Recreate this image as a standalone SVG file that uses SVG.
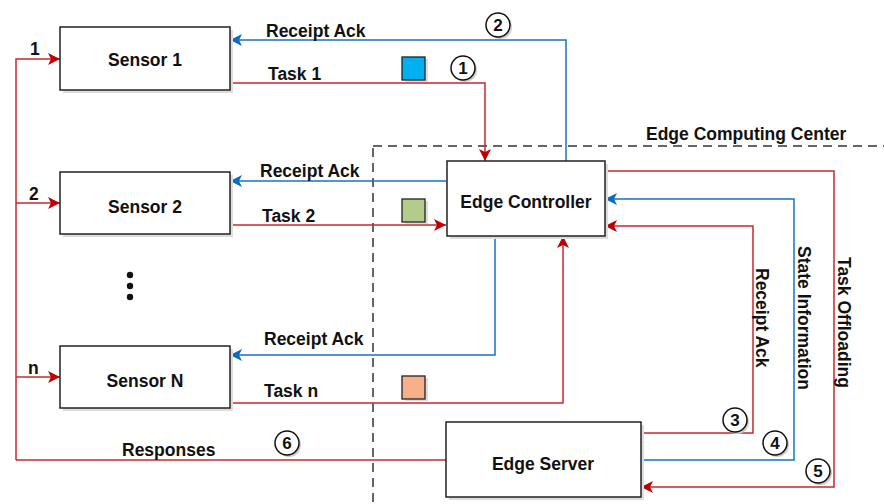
<svg xmlns="http://www.w3.org/2000/svg" width="884" height="504" viewBox="0 0 884 504">
<defs>
<style>
.box{fill:#fff;stroke:#222;stroke-width:1.5}
.sh{fill:#ddd}
.lbl{font-family:"Liberation Sans",Arial,sans-serif;font-weight:bold;font-size:17.5px;fill:#111}
.nm{font-family:"Liberation Sans",Arial,sans-serif;font-weight:bold;font-size:17.5px;fill:#111;text-anchor:middle}
.r{fill:none;stroke:#C8282D;stroke-width:1.5}
.b{fill:none;stroke:#1473C4;stroke-width:1.5}
.dash{fill:none;stroke:#333;stroke-width:1.5;stroke-dasharray:9 6}
.cir{fill:#fff;stroke:#111;stroke-width:1.5}
.cirsh{fill:#ccc}
.cn{font-family:"Liberation Sans",Arial,sans-serif;font-weight:bold;font-size:17px;fill:#111;text-anchor:middle}
.sq{stroke:#222;stroke-width:1.3}
</style>
<marker id="ar" markerUnits="userSpaceOnUse" markerWidth="12" markerHeight="12" refX="12" refY="6" orient="auto" viewBox="0 0 12 12"><path d="M0,0 L12,6 L0,12 L3,6 z" fill="#C00000"/></marker>
<marker id="ab" markerUnits="userSpaceOnUse" markerWidth="12" markerHeight="12" refX="12" refY="6" orient="auto" viewBox="0 0 12 12"><path d="M0,0 L12,6 L0,12 L3,6 z" fill="#0B6CC0"/></marker>
</defs>
<rect width="884" height="504" fill="#fff"/>

<!-- dashed boundary -->
<g id="boundary">
<path class="dash" d="M373,148 V504"/>
<path class="dash" d="M373,146 H884"/>
<text class="lbl" x="646" y="140" font-size="18.5">Edge Computing Center</text>
</g>

<!-- connectors -->
<g id="connectors">
<path class="r" d="M16,460 V59 H60" marker-end="url(#ar)"/>
<path class="r" d="M16,203 H60" marker-end="url(#ar)"/>
<path class="r" d="M16,377 H60" marker-end="url(#ar)"/>
<path class="b" d="M566,161 V40 H230" marker-end="url(#ab)"/>
<path class="r" d="M230,83 H485 V161" marker-end="url(#ar)"/>
<path class="b" d="M446,181 H230" marker-end="url(#ab)"/>
<path class="r" d="M230,225 H446" marker-end="url(#ar)"/>
<path class="b" d="M495,236 V355 H230" marker-end="url(#ab)"/>
<path class="r" d="M230,403 H563 V236" marker-end="url(#ar)"/>
<path class="r" d="M446,460 H16"/>
<path class="r" d="M605,171 H834 V487 H641" marker-end="url(#ar)"/>
<path class="b" d="M641,460 H794 V199 H605" marker-end="url(#ab)"/>
<path class="r" d="M641,433 H753 V226 H605" marker-end="url(#ar)"/>
</g>

<g id="labels">
<text class="lbl" x="30" y="55">1</text>
<text class="lbl" x="29" y="200">2</text>
<text class="lbl" x="28" y="374">n</text>
<text class="lbl" x="266" y="37">Receipt Ack</text>
<text class="lbl" x="268" y="80">Task 1</text>
<text class="lbl" x="260" y="177">Receipt Ack</text>
<text class="lbl" x="262" y="222">Task 2</text>
<text class="lbl" x="264" y="345">Receipt Ack</text>
<text class="lbl" x="264" y="397">Task n</text>
<text class="lbl" x="122" y="456">Responses</text>
<text class="lbl" transform="translate(756,268) rotate(90)" font-size="18">Receipt Ack</text>
<text class="lbl" transform="translate(798,246) rotate(90)" font-size="19">State Information</text>
<text class="lbl" transform="translate(838,257) rotate(90)" font-size="19">Task Offloading</text>
</g>

<!-- task squares -->
<g id="squares">
<rect x="405" y="59" width="23" height="23" class="sh"/>
<rect x="402" y="57" width="23" height="23" class="sq" fill="#00B0F0"/>
<rect x="405" y="201" width="23" height="23" class="sh"/>
<rect x="402" y="199" width="23" height="23" class="sq" fill="#B3CC8C"/>
<rect x="405" y="378" width="23" height="23" class="sh"/>
<rect x="402" y="376" width="23" height="23" class="sq" fill="#F7B08A"/>
</g>

<!-- circled numbers -->
<g id="steps">
<circle cx="465" cy="70" r="12" class="cirsh"/><circle cx="463" cy="68" r="12" class="cir"/><text class="cn" x="463" y="74">1</text>
<circle cx="500" cy="27" r="12" class="cirsh"/><circle cx="498" cy="25" r="12" class="cir"/><text class="cn" x="498" y="31">2</text>
<circle cx="737" cy="422" r="12" class="cirsh"/><circle cx="735" cy="420" r="12" class="cir"/><text class="cn" x="735" y="426">3</text>
<circle cx="777" cy="445" r="12" class="cirsh"/><circle cx="775" cy="443" r="12" class="cir"/><text class="cn" x="775" y="449">4</text>
<circle cx="820" cy="473" r="12" class="cirsh"/><circle cx="818" cy="471" r="12" class="cir"/><text class="cn" x="818" y="477">5</text>
<circle cx="289" cy="445" r="12" class="cirsh"/><circle cx="287" cy="443" r="12" class="cir"/><text class="cn" x="287" y="449">6</text>
</g>

<g id="sensor1">
<rect x="63" y="30" width="170" height="63" class="sh"/>
<rect x="60" y="27" width="170" height="63" class="box"/>
<text class="nm" x="145" y="66">Sensor 1</text>
</g>
<g id="sensor2">
<rect x="63" y="175" width="170" height="62" class="sh"/>
<rect x="60" y="172" width="170" height="62" class="box"/>
<text class="nm" x="145" y="213">Sensor 2</text>
</g>
<g id="dots">
<circle cx="130" cy="275" r="3.2" fill="#111"/>
<circle cx="130" cy="286" r="3.2" fill="#111"/>
<circle cx="130" cy="297" r="3.2" fill="#111"/>
</g>
<g id="sensorN">
<rect x="63" y="349" width="170" height="62" class="sh"/>
<rect x="60" y="346" width="170" height="62" class="box"/>
<text class="nm" x="145" y="387">Sensor N</text>
</g>
<g id="edgeController">
<rect x="450" y="164" width="158" height="75" class="sh"/>
<rect x="447" y="161" width="158" height="75" class="box"/>
<text class="nm" x="526" y="208">Edge Controller</text>
</g>
<g id="edgeServer">
<rect x="449" y="425" width="195" height="75" class="sh"/>
<rect x="446" y="422" width="195" height="75" class="box"/>
<text class="nm" x="543" y="470">Edge Server</text>
</g>
</svg>
